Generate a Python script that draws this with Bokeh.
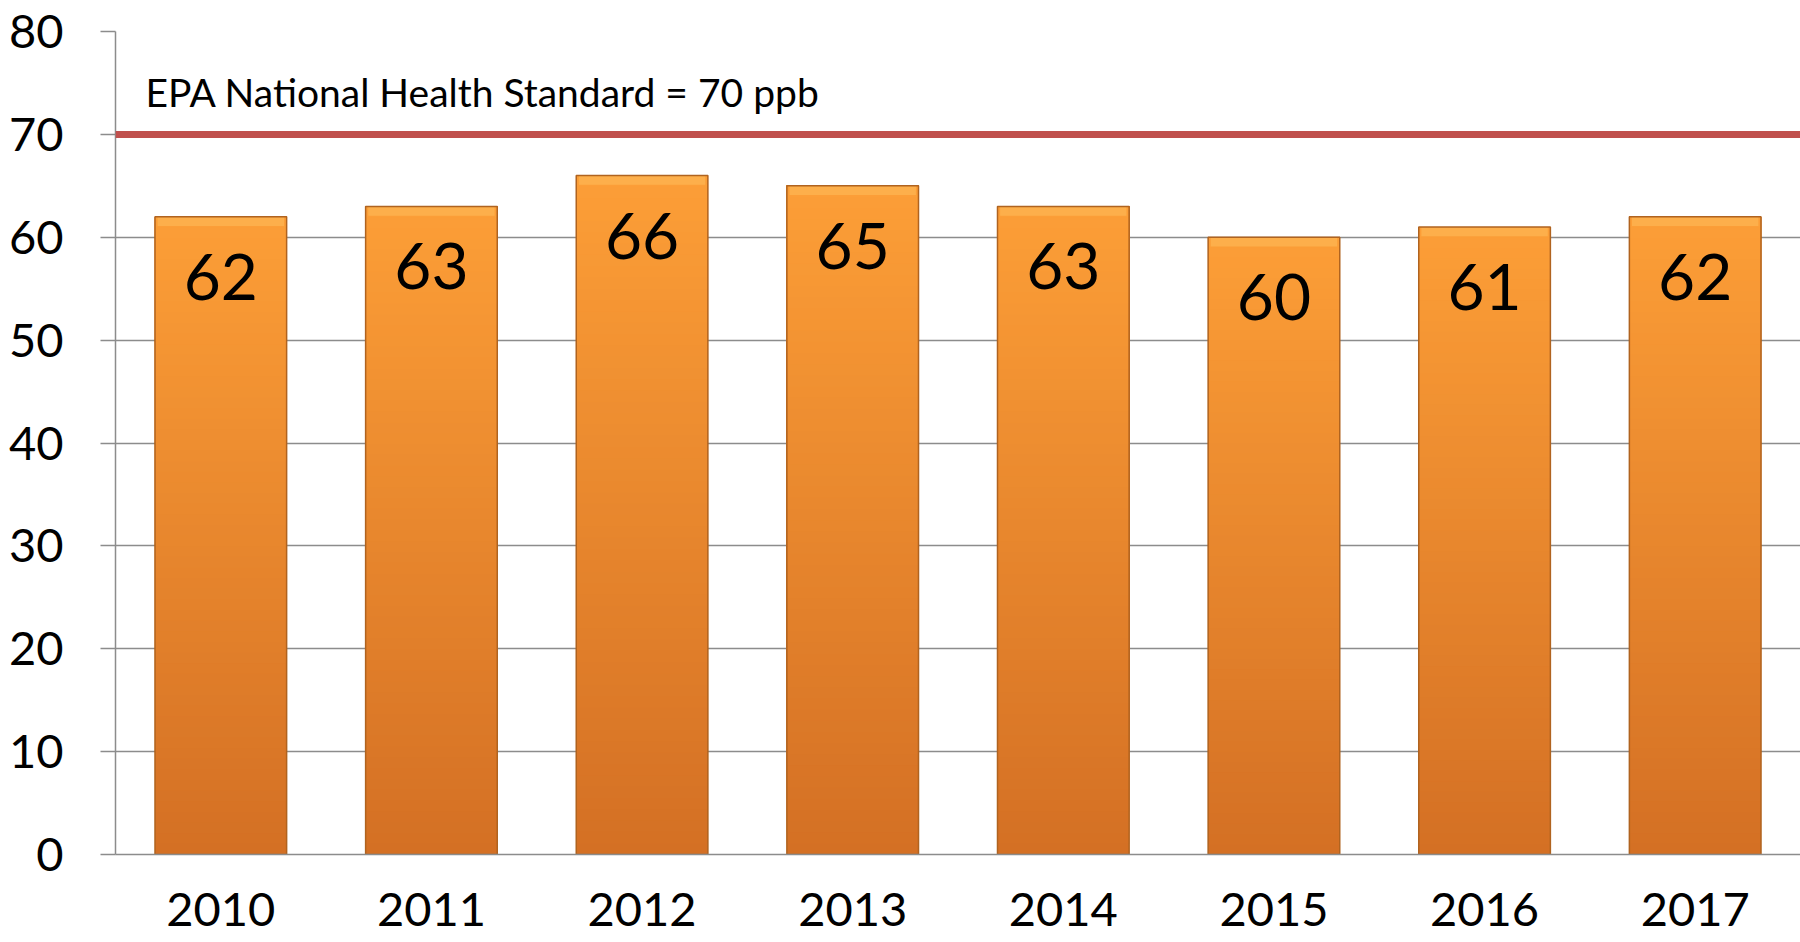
from bokeh.plotting import figure
from bokeh.models import Span, Label, FixedTicker, ColumnDataSource
from bokeh.core.properties import value
from bokeh.embed import file_html
from bokeh.resources import INLINE

# ---- data ----
years = ["2010", "2011", "2012", "2013", "2014", "2015", "2016", "2017"]
ozone_ppb = [62, 63, 66, 65, 63, 60, 61, 62]
standard_ppb = 70
standard_label = "EPA National Health Standard = 70 ppb"
y_ticks = [0, 10, 20, 30, 40, 50, 60, 70, 80]

FONT = "Lato"
TOP_COLOR = (252, 158, 55)
BOTTOM_COLOR = (212, 112, 36)


def mix(c1, c2, t):
    return "#%02x%02x%02x" % tuple(int(round(a + (b - a) * t)) for a, b in zip(c1, c2))


p = figure(
    x_range=years, y_range=(0, 80),
    width=1800, height=942,
    output_backend="svg", toolbar_location=None,
    min_border_left=115, min_border_right=0,
    min_border_top=31, min_border_bottom=88,
)
p.x_range.range_padding = 0
p.outline_line_color = None
p.background_fill_color = "white"
p.border_fill_color = "white"

# gradient bars: overlapping bands, each running from a fraction of the value up to the value
bands = 60
bx, bb, bt, bc = [], [], [], []
for k in range(bands):
    for yr, v in zip(years, ozone_ppb):
        bx.append(yr)
        bb.append(v * k / bands)
        bt.append(v)
        bc.append(mix(BOTTOM_COLOR, TOP_COLOR, k / (bands - 1)))
p.vbar(x=bx, bottom=bb, top=bt, width=0.625, fill_color=bc, line_color=None)

# top bevel highlight
p.vbar(x=years, top=ozone_ppb, bottom=[v - 0.9 for v in ozone_ppb], width=0.6,
       fill_color="#fdb24f", fill_alpha=0.85, line_color=None)
# bar outline
p.vbar(x=years, top=ozone_ppb, width=0.625, fill_color=None,
       line_color="#b0631f", line_width=1.5)

# value labels inside bars
src = ColumnDataSource(dict(x=years, y=ozone_ppb, t=[str(v) for v in ozone_ppb]))
p.text(x="x", y="y", text="t", source=src, y_offset=60,
       text_align="center", text_baseline="middle",
       text_font=value(FONT), text_font_size="64px", text_color="black")

# standard line
p.add_layout(Span(location=standard_ppb, dimension="width",
                  line_color="#c0504d", line_width=7))
p.add_layout(Label(x=0, y=standard_ppb, x_offset=30, y_offset=42,
                   text=standard_label, text_font=FONT, text_font_size="39px",
                   text_color="black", text_align="left", text_baseline="middle"))

# axes
p.yaxis.ticker = FixedTicker(ticks=y_ticks)
p.yaxis.axis_line_color = "#8c8c8c"
p.yaxis.axis_line_width = 1.5
p.yaxis.major_tick_line_color = "#8c8c8c"
p.yaxis.major_tick_line_width = 1.5
p.yaxis.major_tick_out = 15
p.yaxis.major_tick_in = 0
p.yaxis.minor_tick_line_color = None
p.yaxis.major_label_standoff = 37
p.yaxis.major_label_text_font = FONT
p.yaxis.major_label_text_font_size = "47px"
p.yaxis.major_label_text_color = "black"

p.xaxis.axis_line_color = "#8c8c8c"
p.xaxis.axis_line_width = 1.5
p.xaxis.major_tick_line_color = None
p.xaxis.minor_tick_line_color = None
p.xaxis.major_label_standoff = 32
p.xaxis.major_label_text_font = FONT
p.xaxis.major_label_text_font_size = "47px"
p.xaxis.major_label_text_color = "black"

p.xgrid.grid_line_color = None
p.ygrid.grid_line_color = "#8c8c8c"
p.ygrid.grid_line_width = 1.5
p.ygrid.level = "underlay"

open("out.html", "w").write(file_html(p, INLINE))
